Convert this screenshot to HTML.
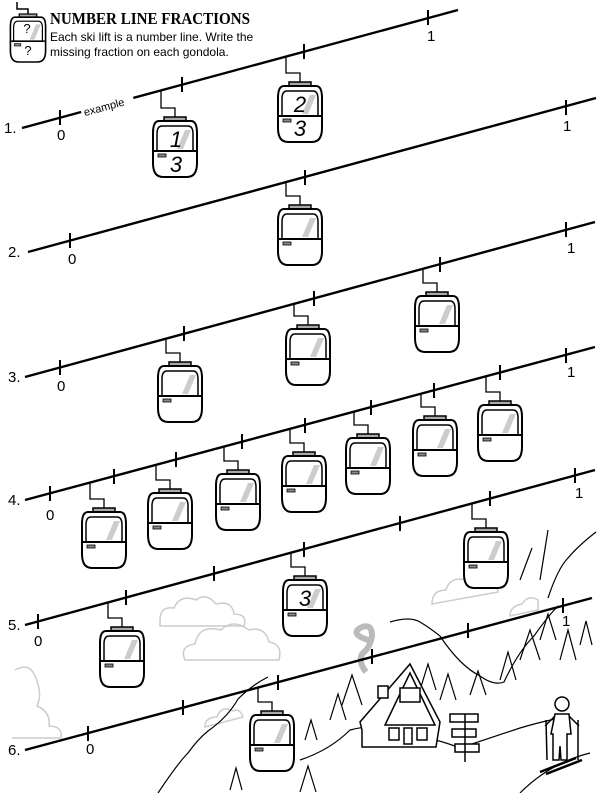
<!DOCTYPE html>
<html><head><meta charset="utf-8"><style>
html,body{margin:0;padding:0;background:#fff}
svg{display:block}
text{font-family:"Liberation Sans",sans-serif}
</style></head><body>
<svg width="600" height="793" viewBox="0 0 600 793" xmlns="http://www.w3.org/2000/svg">
<defs>
<g id="gd">
<rect x="-11" y="0" width="22" height="4" fill="#aaa" stroke="#000" stroke-width="1.5"/>
<path d="M-16,4 H16 Q22,4 22,16 V46 Q22,60 12,60 H-12 Q-22,60 -22,46 V16 Q-22,4 -16,4 Z" fill="#fff" stroke="#000" stroke-width="2"/>
<path d="M-13,9 H13 Q18,9 18,17 V34 H-18 V17 Q-18,9 -13,9 Z" fill="#fff" stroke="#000" stroke-width="1.5"/>
<polygon points="2,32 8,32 16,13 10,13" fill="#ccc"/>
<line x1="-21" y1="34" x2="21" y2="34" stroke="#000" stroke-width="2"/>
<rect x="-17" y="37" width="8" height="3" fill="#888" stroke="#000" stroke-width="0.8"/>
</g>
</defs>

<g fill="none" stroke="#ccc" stroke-width="1.5">
<path d="M160,620 q0,-14 14,-12 q6,-14 22,-8 q10,-8 20,4 q16,-4 18,10 q14,0 10,12 H160 Z"/>
<path d="M185,660 q-6,-14 10,-16 q4,-20 26,-14 q12,-12 28,0 q16,-4 20,12 q14,2 10,18 Z"/>
<path d="M15,670 q14,-8 20,6 q8,18 2,30 q14,6 12,20 q14,0 12,12 H12"/>
<path d="M205,727 q0,-10 12,-10 q4,-12 16,-6 q6,-4 10,6 Z"/>
<path d="M432,604 q0,-14 14,-14 q4,-14 20,-10 q8,-10 20,0 q10,0 12,12 Z"/>
<path d="M510,616 q0,-10 12,-12 q6,-10 16,-4 v10 Z"/>
</g>
<path d="M368,640 q-18,-6 -8,-12 q12,-6 12,8 q-2,12 -10,18 q-4,8 4,18" fill="none" stroke="#bbb" stroke-width="6"/>
<g fill="none" stroke="#000" stroke-width="1.2">
<path d="M158,793 q20,-30 30,-40 q10,-14 20,-22 q20,-14 30,-32 q14,-14 30,-22"/>
<path d="M390,622 q20,-6 30,0 q10,6 20,14 q20,30 40,40 q14,10 24,6 q14,-30 30,-46 q14,-20 24,-30"/>
<path d="M548,598 q10,-30 20,-40 q10,-12 28,-26"/>
<path d="M520,580 l12,-32 M540,580 l8,-50"/>
<path d="M300,760 q30,-10 50,-30 q30,-8 60,4 q30,6 50,14 q30,-10 60,-20 q20,-6 40,-10"/>
<path d="M520,793 q30,-30 70,-40"/>
<path d="M330,720 l8,-26 l8,26 M342,705 l10,-30 l10,30 M440,700 l8,-26 l8,26 M470,695 l8,-24 l8,24 M500,680 l8,-28 l8,28 M520,660 l10,-30 l10,30 M540,640 l8,-26 l8,26 M560,660 l8,-30 l8,30 M580,645 l6,-24 l6,24 M420,690 l8,-26 l8,26 M230,790 l6,-22 l6,22 M300,792 l8,-26 l8,26 M305,740 l6,-20 l6,20"/>
</g>
<g stroke="#000" fill="#fff" stroke-width="1.5">
<polygon points="362,730 360,722 410,664 440,722 436,747 362,747"/>
<polygon points="385,725 410,673 435,725" fill="none"/>
<rect x="389" y="728" width="10" height="12"/><rect x="404" y="728" width="8" height="16"/><rect x="417" y="728" width="10" height="12"/>
<rect x="400" y="688" width="20" height="14"/>
<rect x="378" y="686" width="10" height="12"/>
<rect x="450" y="714" width="28" height="8"/><rect x="452" y="729" width="24" height="8"/><rect x="455" y="744" width="24" height="8"/>
<line x1="465" y1="714" x2="465" y2="762"/>
</g>
<g stroke="#000" stroke-width="1.5" fill="#fff">
<circle cx="562" cy="704" r="7"/>
<path d="M555,714 h14 l2,20 h-4 v26 h-6 l-1,-14 l-1,14 h-6 v-26 h-2 z"/>
<path d="M555,716 l-10,10 M569,716 l10,10"/>
<line x1="546" y1="720" x2="547" y2="760"/><line x1="578" y1="720" x2="578" y2="760"/>
<path d="M540,772 l36,-14 M546,774 l36,-14" stroke-width="2.5"/>
</g>

<path d="M17,2 V9 H28 V14" fill="none" stroke="#000" stroke-width="1.5"/>
<g transform="translate(28,14) scale(0.8)"><use href="#gd"/></g>
<text x="27" y="33" font-size="13" text-anchor="middle">?</text>
<text x="28" y="55" font-size="13" text-anchor="middle">?</text>
<text x="50" y="24" textLength="200" lengthAdjust="spacingAndGlyphs" style="font-family:'Liberation Serif',serif;font-size:17px;font-weight:bold">NUMBER LINE FRACTIONS</text>
<text x="50" y="41" font-size="12">Each ski lift is a number line. Write the</text>
<text x="50" y="56" font-size="12">missing fraction on each gondola.</text>

<g stroke="#000" stroke-width="2.4" fill="none">
<line x1="22" y1="128" x2="458" y2="10"/>
<line x1="28" y1="252" x2="596" y2="98"/>
<line x1="25" y1="377" x2="595" y2="222"/>
<line x1="25" y1="500" x2="595" y2="347"/>
<line x1="25" y1="625" x2="595" y2="470"/>
<line x1="25" y1="750" x2="592" y2="598"/>
</g>
<rect x="80" y="98" width="54" height="12" fill="#fff" transform="rotate(-15 107 104)"/>
<text x="83" y="110" font-size="11" transform="rotate(-15 107 106)">example</text>
<g stroke="#000" stroke-width="2">
<path d="M60,110v15M182,77v15M304,44v15M428,10v15"/>
<path d="M70,233v15M305,170v15M566,100v15"/>
<path d="M60,360v15M184,326v15M314,291v15M440,257v15M566,222v15"/>
<path d="M50,486v15M114,469v15M176,452v15M242,434v15M305,418v15M371,400v15M434,383v15M500,365v15M566,348v15"/>
<path d="M38,614v15M126,590v15M214,566v15M304,542v15M400,516v15M490,491v15M575,468v15"/>
<path d="M88,726v15M183,700v15M278,675v15M372,649v15M468,623v15M563,598v15"/>
</g>
<g font-size="15">
<text x="4" y="133">1.</text><text x="57" y="140">0</text><text x="427" y="41">1</text>
<text x="8" y="257">2.</text><text x="68" y="264">0</text><text x="563" y="131">1</text>
<text x="8" y="382">3.</text><text x="57" y="391">0</text><text x="567" y="253">1</text>
<text x="8" y="505">4.</text><text x="46" y="520">0</text><text x="567" y="377">1</text>
<text x="8" y="630">5.</text><text x="34" y="646">0</text><text x="575" y="498">1</text>
<text x="8" y="755">6.</text><text x="86" y="754">0</text><text x="562" y="626">1</text>
</g>
<g stroke="#000" stroke-width="1.3" fill="none">
<path d="M161,90V108H175V117"/><path d="M286,57V73H300V82"/>
<path d="M286,182V196H300V205"/>
<path d="M423,269V283H437V292"/><path d="M294,304V316H308V325"/><path d="M166,339V353H180V362"/>
<path d="M486,377V392H500V401"/><path d="M421,394V407H435V416"/><path d="M354,412V425H368V434"/><path d="M290,429V443H304V452"/><path d="M224,447V461H238V470"/><path d="M156,465V480H170V489"/><path d="M90,483V499H104V508"/>
<path d="M472,503V519H486V528"/><path d="M291,553V567H305V576"/><path d="M108,602V618H122V627"/>
<path d="M258,687V702H272V711"/>
</g>
<use href="#gd" x="175" y="117"/><use href="#gd" x="300" y="82"/>
<use href="#gd" x="300" y="205"/>
<use href="#gd" x="437" y="292"/><use href="#gd" x="308" y="325"/><use href="#gd" x="180" y="362"/>
<use href="#gd" x="500" y="401"/><use href="#gd" x="435" y="416"/><use href="#gd" x="368" y="434"/><use href="#gd" x="304" y="452"/><use href="#gd" x="238" y="470"/><use href="#gd" x="170" y="489"/><use href="#gd" x="104" y="508"/>
<use href="#gd" x="486" y="528"/><use href="#gd" x="305" y="576"/><use href="#gd" x="122" y="627"/>
<use href="#gd" x="272" y="711"/>
<g font-size="22" font-style="italic" text-anchor="middle">
<text x="176" y="147">1</text><text x="176" y="172">3</text>
<text x="300" y="112">2</text><text x="300" y="136">3</text>
<text x="305" y="606">3</text>
</g>
</svg>
</body></html>
